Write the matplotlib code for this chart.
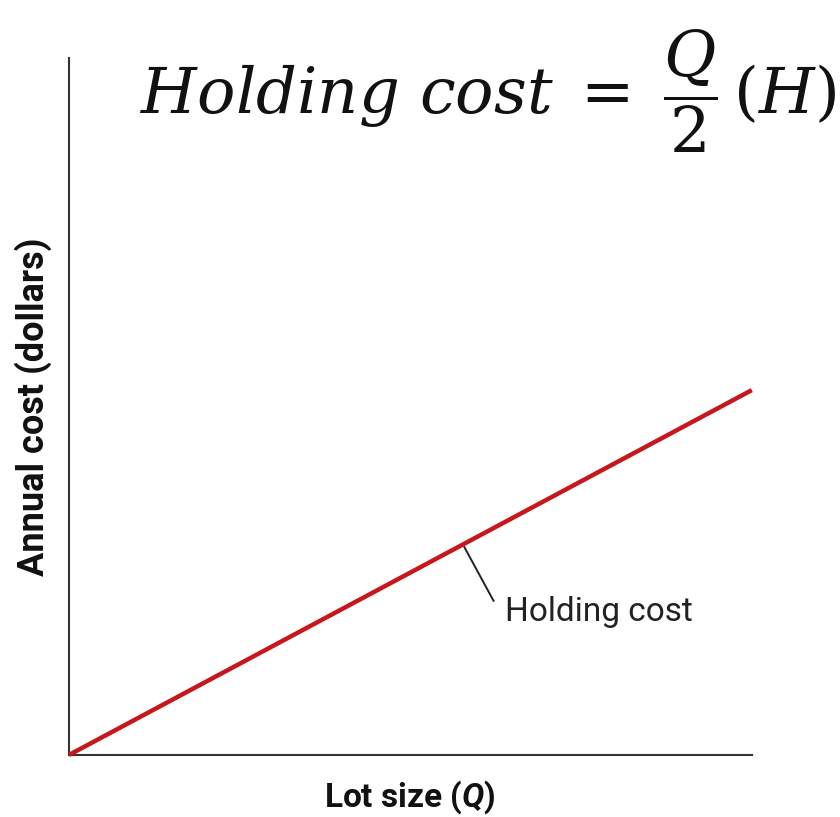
import matplotlib
matplotlib.use("Agg")
import matplotlib.pyplot as plt
import numpy as np

# Holding cost = Q/2 * H
lot_size = np.array([0, 10])
holding_rate = 1.0
holding_cost = lot_size / 2 * holding_rate

sans = ['Roboto', 'DejaVu Sans']
plt.rcParams['mathtext.fontset'] = 'custom'
plt.rcParams['mathtext.rm'] = 'DejaVu Serif'
plt.rcParams['mathtext.it'] = 'DejaVu Serif:italic'
plt.rcParams['mathtext.bf'] = 'DejaVu Serif:bold'
plt.rcParams['mathtext.bfit'] = 'Roboto:italic:bold'

fig = plt.figure(figsize=(8.4, 8.17), dpi=100)
ax = fig.add_axes([0.082, 0.0759, 0.813, 0.853])

ax.plot(lot_size, holding_cost, color='#c8161d', linewidth=3.2, solid_capstyle='butt',
        clip_on=False, zorder=3)
ax.set_xlim(0, 10)
ax.set_ylim(0, 9.55)

for side in ['top', 'right']:
    ax.spines[side].set_visible(False)
for side in ['left', 'bottom']:
    ax.spines[side].set_color('#333333')
    ax.spines[side].set_linewidth(1.5)
ax.set_xticks([])
ax.set_yticks([])

ax.set_xlabel(r'Lot size ($\boldsymbol{Q}$)', family=sans, fontsize=24,
              fontweight='bold', labelpad=17, color='#111111')
ax.set_ylabel('Annual cost (dollars)', family=sans, fontsize=26,
              fontweight='bold', labelpad=12, color='#111111')

# label with leader line
px = 5.77
ax.annotate('', xy=(px, px / 2 * holding_rate), xytext=(6.22, 2.11),
            arrowprops=dict(arrowstyle='-', color='#222222', lw=1.4,
                            shrinkA=0, shrinkB=2))
ax.text(6.38, 1.96, 'Holding cost', family=sans, fontsize=24, color='#222222',
        va='center', ha='left')

fig.text(0.995, 0.862, r'$Holding\ cost\;=\;\dfrac{Q}{2}\,(H)$', fontsize=46,
         ha='right', va='baseline', color='#111111')

fig.savefig('out.png', dpi=100)
